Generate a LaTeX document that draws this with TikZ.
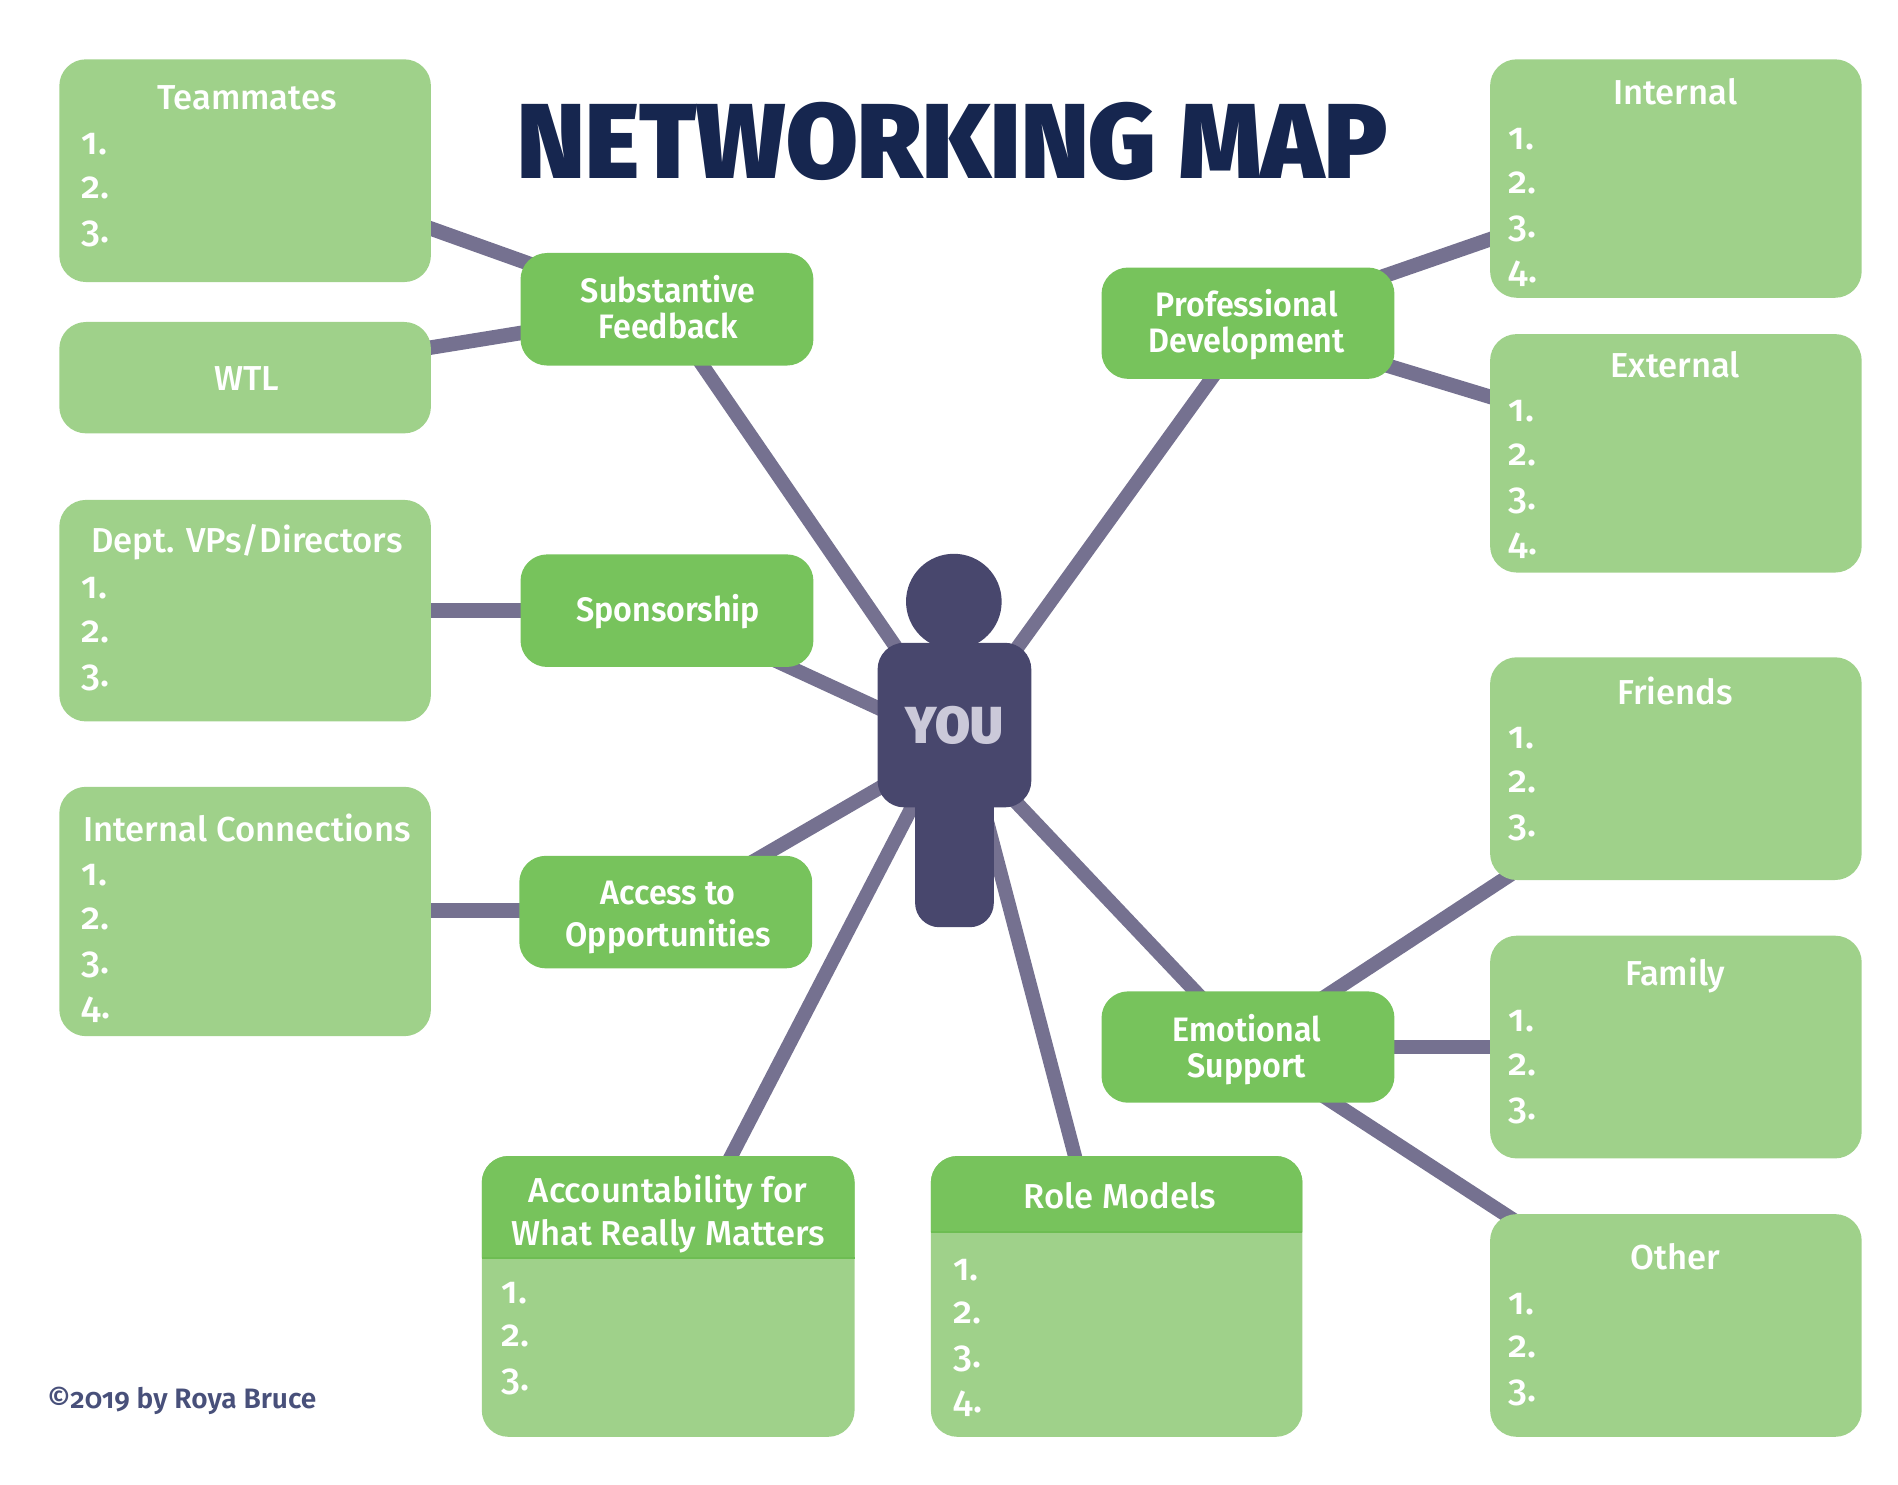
\documentclass[tikz,border=0pt]{standalone}
\usepackage{fontspec}
\setmainfont{Fira Sans Medium}[Numbers=OldStyle]
\newfontfamily\hubfont{Fira Sans SemiBold}[Numbers=OldStyle,FakeStretch=0.95]
\newfontfamily\heavyfont{Fira Sans Black}[FakeStretch=0.975]
\newfontfamily\copyfont{Fira Sans SemiBold}[Numbers=OldStyle]
\usetikzlibrary{backgrounds,calc}
\definecolor{lightg}{HTML}{9FD18A}
\definecolor{darkg}{HTML}{77C35C}
\definecolor{edgeg}{HTML}{6DBD52}
\definecolor{linec}{HTML}{757190}
\definecolor{person}{HTML}{48476D}
\definecolor{navy}{HTML}{16264F}
\definecolor{youtxt}{HTML}{CBC9D9}
\definecolor{copyc}{HTML}{48507A}
\tikzset{
  x=0.5pt,y=-0.5pt,
  box/.style={fill=lightg,rounded corners=11pt,inner sep=0pt,outer sep=0pt},
  hub/.style={fill=darkg,rounded corners=11pt,inner sep=0pt,outer sep=0pt},
  boxtitle/.style={text=white,inner sep=0pt,align=center,font=\fontsize{14.3}{18}\selectfont},
  hubtitle/.style={text=white,inner sep=0pt,align=center,font=\fontsize{14}{14.8}\hubfont},
  numlabel/.style={text=white,inner sep=0pt,anchor=west,font=\fontsize{15.5}{16}\selectfont},
  link/.style={draw=linec,line width=5.8pt},
  sublink/.style={draw=linec,line width=6pt},
}
\newcommand{\bx}[6]{\node[#6,minimum width={(#4-#2)*0.5},minimum height={(#5-#3)*0.5}] (#1) at ({(#2+#4)/2},{(#3+#5)/2}) {};}
\newcommand{\nums}[3]{\foreach \i/\yy in {#3} {\node[numlabel] (#1-\i) at (#2,\yy) {\i.};}}
\begin{document}
\begin{tikzpicture}
\useasboundingbox (0,0) rectangle (1568,1226);
\bx{teammates}{49}{49}{356}{233}{box}
\bx{wtl}{49}{266}{356}{358}{box}
\bx{dept}{49}{413}{356}{596}{box}
\bx{intconn}{49}{650}{356}{856}{box}
\bx{internal}{1231}{49}{1538}{246}{box}
\bx{external}{1231}{276}{1538}{473}{box}
\bx{friends}{1231}{543}{1538}{727}{box}
\bx{family}{1231}{773}{1538}{957}{box}
\bx{other}{1231}{1003}{1538}{1187}{box}
\bx{subst}{430}{209}{672}{302}{hub}
\bx{spons}{430}{458}{672}{551}{hub}
\bx{access}{429}{707}{671}{800}{hub}
\bx{prof}{910}{221}{1152}{313}{hub}
\bx{emot}{910}{819}{1152}{911}{hub}
\bx{account}{398}{955}{706}{1187}{box}
\bx{role}{769}{955}{1076}{1187}{box}
\fill[darkg] (398,1039) {[rounded corners=11pt] -- (398,955) -- (706,955)} -- (706,1039) -- cycle;
\draw[edgeg,line width=0.8pt] (398,1039) -- (706,1039);
\fill[darkg] (769,1018) {[rounded corners=11pt] -- (769,955) -- (1076,955)} -- (1076,1018) -- cycle;
\draw[edgeg,line width=0.8pt] (769,1018) -- (1076,1018);
% person
\node[circle,fill=person,minimum size=39.5pt,inner sep=0pt] (head) at (788,497) {};
\fill[person,rounded corners=10pt] (756,640) rectangle (821,766);
\node[fill=person,rounded corners=11pt,minimum width=63.5pt,minimum height=68pt,inner sep=0pt,text=youtxt,font=\fontsize{21.5}{24}\heavyfont] (you) at (788.5,599) {YOU};
% connectors
\begin{pgfonlayer}{background}
\draw[sublink] ([shift={(0,-7)}]teammates.center) -- ([shift={(0,3)}]subst.center);
\draw[sublink] (wtl.center) -- (subst.center);
\draw[link] ([shift={(3,8)}]subst.center) -- ([shift={(0,6)}]you.center);
\draw[sublink] (dept.center |- spons.center) -- (spons.center);
\draw[link] (spons.center) -- ([shift={(0,15)}]you.center);
\draw[sublink] (intconn.center |- 0,752) -- (access.center |- 0,752);
\draw[link] (access.center) -- ([shift={(0,16)}]you.center);
\draw[link] ([shift={(-8,0)}]account.center) -- (you.center);
\draw[link] ([shift={(-4,0)}]role.center) -- ([shift={(6,0)}]you.center);
\draw[link] (emot.center) -- ([shift={(0,10)}]you.center);
\draw[link] ([shift={(0,4)}]prof.center) -- ([shift={(0,8)}]you.center);
\draw[sublink] (prof.center) -- ([shift={(0,-3)}]internal.center);
\draw[sublink] (prof.center) -- (external.center);
\draw[link] (emot.center) -- ([shift={(0,-2)}]friends.center);
\draw[sublink] (emot.center |- 0,865) -- (family.center |- 0,865);
\draw[link] (emot.center) -- (other.center);
\end{pgfonlayer}
% title
\node[text=navy,inner sep=0pt,font=\fontsize{44}{50}\heavyfont] (maintitle) at (787,117) {NETWORKING MAP};
% box titles
\node[boxtitle] (t-teammates) at (204,81) {Teammates};
\node[boxtitle] (t-wtl) at (204,313) {WTL};
\node[boxtitle] (t-dept) at (204,448) {Dept. VPs/Directors};
\node[boxtitle] (t-intconn) at (204,684) {Internal Connections};
\node[boxtitle] (t-internal) at (1384,76) {Internal};
\node[boxtitle] (t-external) at (1384,301) {External};
\node[boxtitle] (t-friends) at (1384,571) {Friends};
\node[boxtitle] (t-family) at (1384,806) {Family};
\node[boxtitle] (t-other) at (1384,1038) {Other};
\node[boxtitle] (t-role) at (925,988) {Role Models};
\node[boxtitle] (t-account) at (552,1003) {Accountability for\\What Really Matters};
% hub titles
\node[hubtitle] (l-subst) at (552,254) {Substantive\\Feedback};
\node[hubtitle] (l-spons) at (552,505) {Sponsorship};
\node[hubtitle,font=\fontsize{14}{17}\hubfont] (l-access) at (552,758) {Access to\\Opportunities};
\node[hubtitle] (l-prof) at (1030,268) {Professional\\Development};
\node[hubtitle] (l-emot) at (1030,867) {Emotional\\Support};
% numbers
\nums{n-team}{67}{1/119,2/155,3/193}
\nums{n-dept}{67}{1/486,2/522,3/560}
\nums{n-int}{67}{1/723,2/759,3/797,4/834}
\nums{n-internal}{1246}{1/115,2/151,3/189,4/226}
\nums{n-external}{1246}{1/340,2/376,3/414,4/451}
\nums{n-friends}{1246}{1/610,2/646,3/684}
\nums{n-family}{1246}{1/844,2/880,3/918}
\nums{n-other}{1246}{1/1077,2/1113,3/1151}
\nums{n-acc}{414}{1/1068,2/1104,3/1142}
\nums{n-role}{787}{1/1049,2/1085,3/1123,4/1160}
\node[text=copyc,inner sep=0pt,anchor=west,font=\fontsize{11.6}{14}\copyfont] (copy) at (39,1157) {©2019 by Roya Bruce};
\end{tikzpicture}
\end{document}
